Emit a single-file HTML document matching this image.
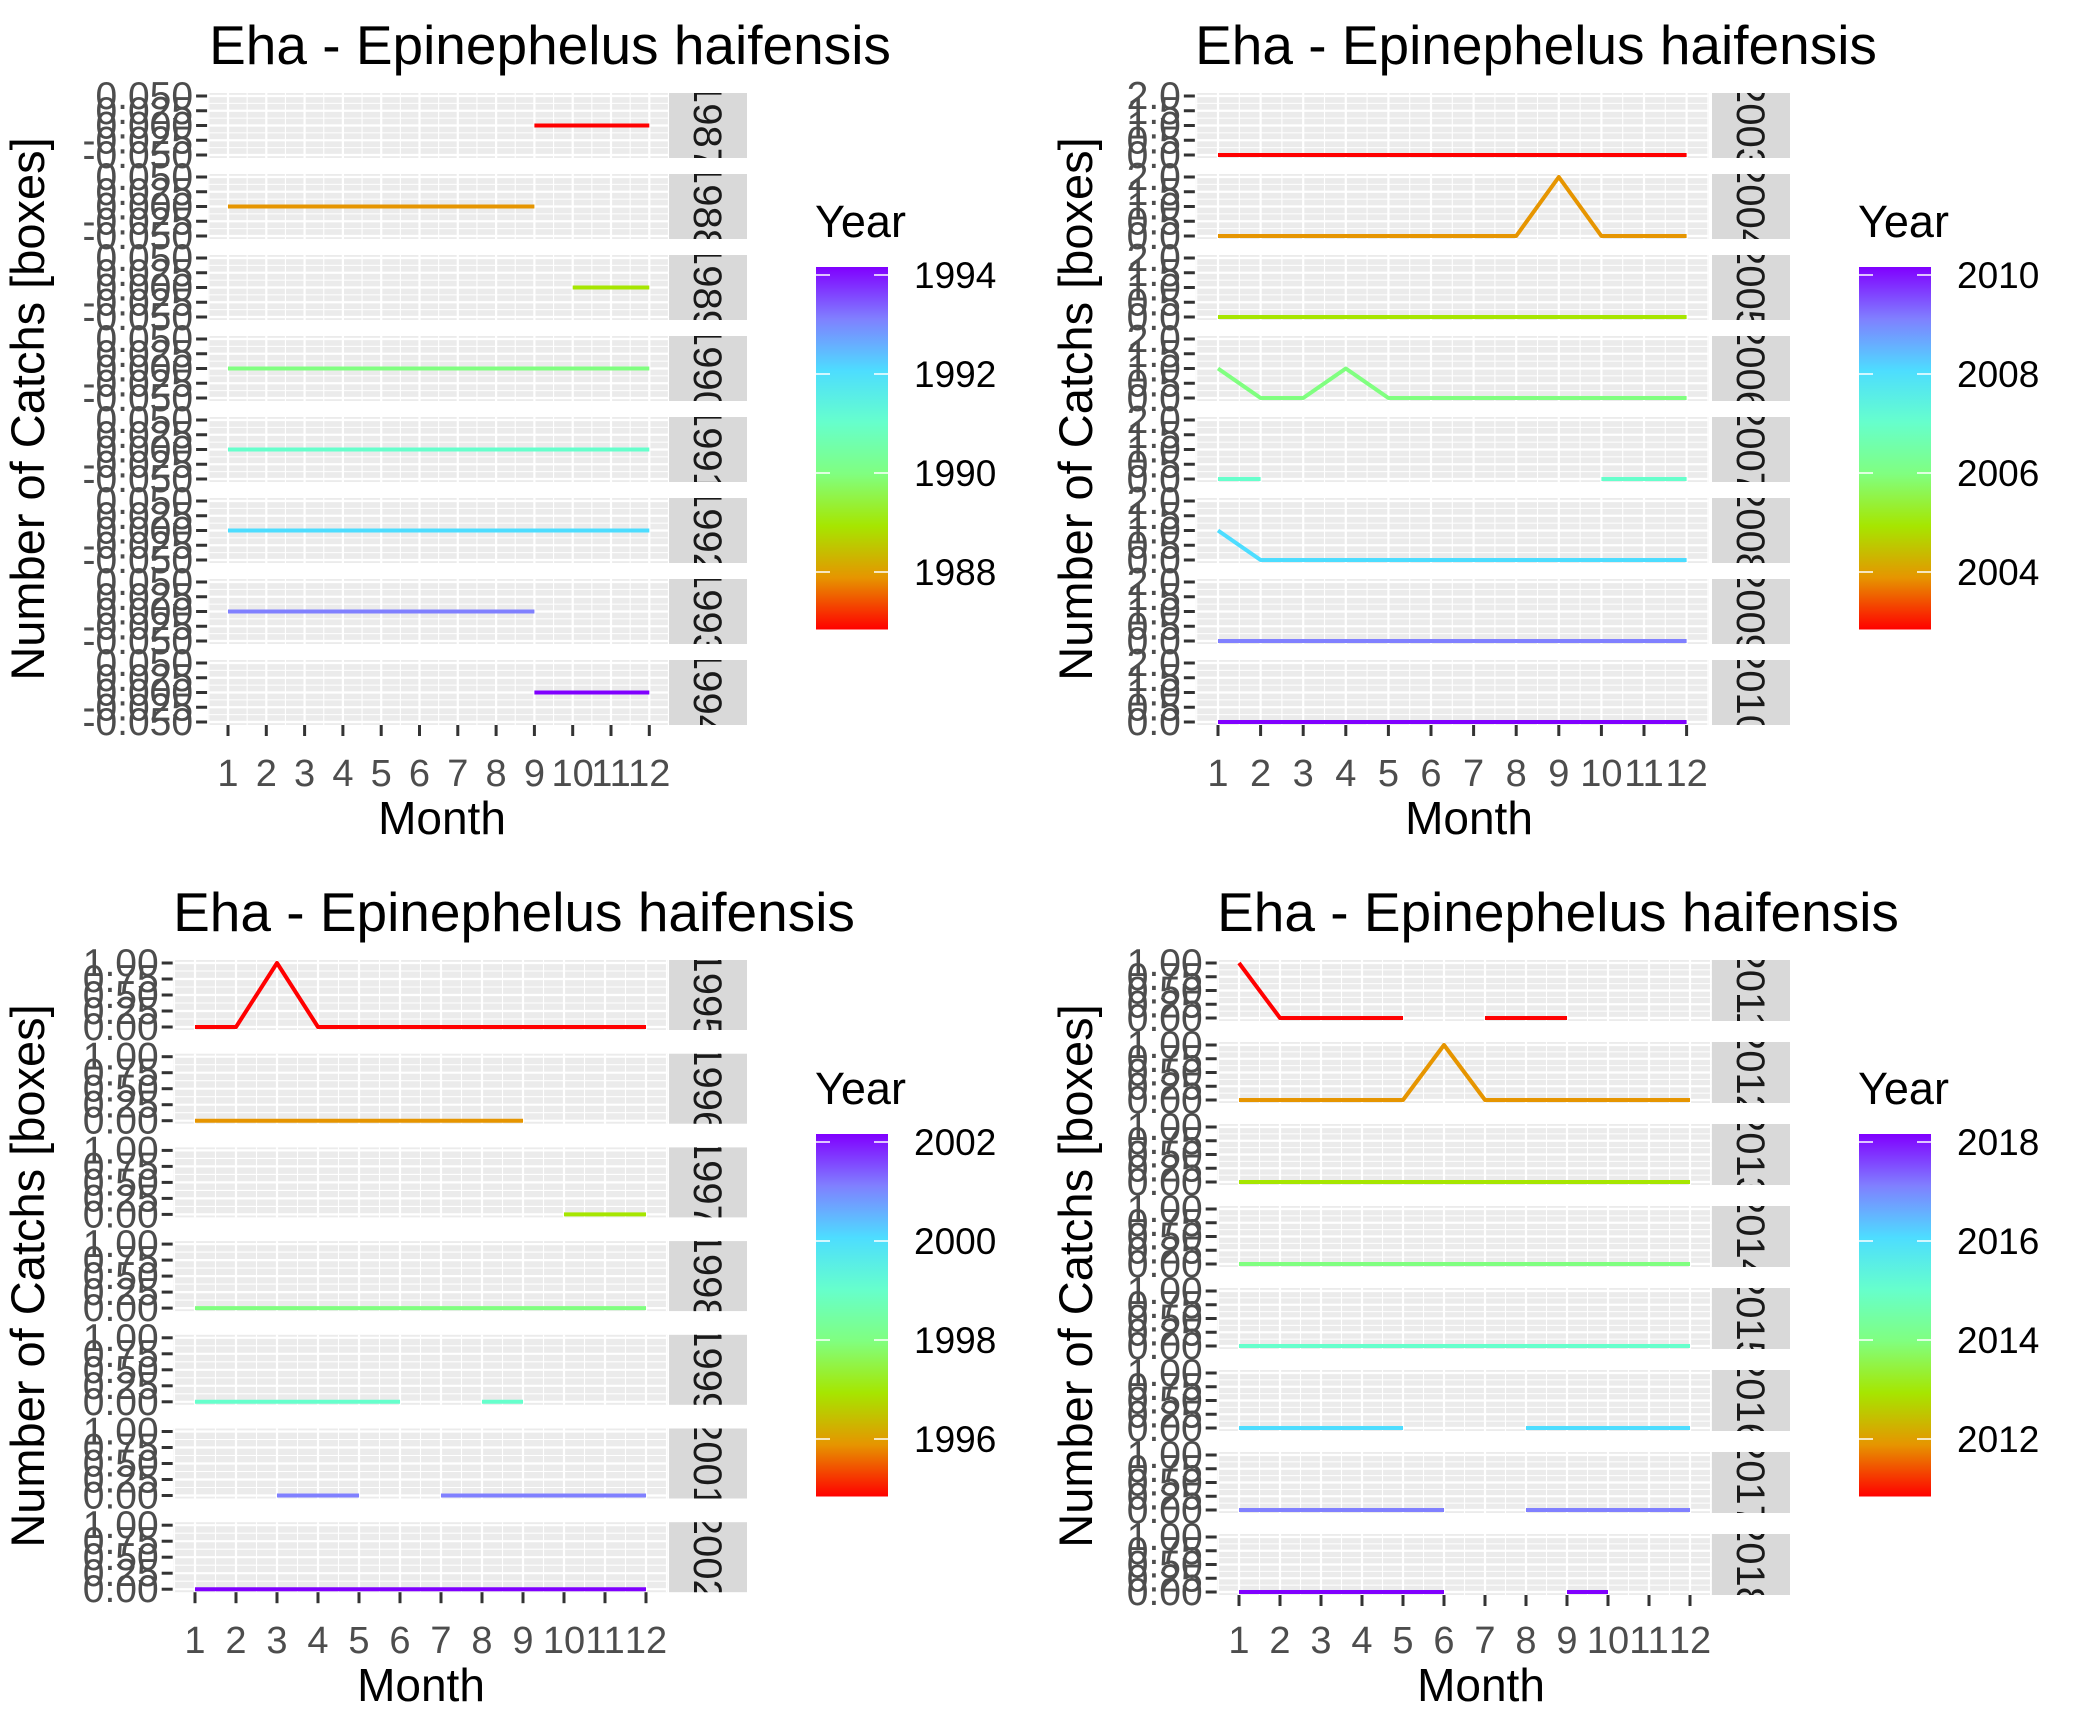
<!DOCTYPE html>
<html><head><meta charset="utf-8"><style>
html,body{margin:0;padding:0;background:#fff;}
svg{display:block;font-family:"Liberation Sans",Arial,sans-serif;}
</style></head><body>
<svg id="fig" width="2087" height="1734" viewBox="0 0 2087 1734" xmlns="http://www.w3.org/2000/svg">
<defs>
<linearGradient id="rb" x1="0" y1="1" x2="0" y2="0">
<stop offset="0" stop-color="#FF0000"/><stop offset="0.143" stop-color="#E69500"/><stop offset="0.286" stop-color="#A6E600"/><stop offset="0.429" stop-color="#80FF80"/><stop offset="0.571" stop-color="#66FFCC"/><stop offset="0.714" stop-color="#4DDDFF"/><stop offset="0.857" stop-color="#8080FF"/><stop offset="1" stop-color="#8000FF"/>
</linearGradient>
</defs>
</svg>
<script>
// ---- data (top level) ----
const months = [1,2,3,4,5,6,7,8,9,10,11,12];
const N = null;
// Top-left: 1987-1994
const tlYears = [1987,1988,1989,1990,1991,1992,1993,1994];
const tlValues = [
 [N,N,N,N,N,N,N,N,0,0,0,0],
 [0,0,0,0,0,0,0,0,0,N,N,N],
 [N,N,N,N,N,N,N,N,N,0,0,0],
 [0,0,0,0,0,0,0,0,0,0,0,0],
 [0,0,0,0,0,0,0,0,0,0,0,0],
 [0,0,0,0,0,0,0,0,0,0,0,0],
 [0,0,0,0,0,0,0,0,0,N,N,N],
 [N,N,N,N,N,N,N,N,0,0,0,0]];
const tlTicks = [-0.05,-0.025,0,0.025,0.05];
const tlTickLabels = ["-0.050","-0.025","0.000","0.025","0.050"];
const tlLegendYears = [1988,1990,1992,1994];
// Top-right: 2003-2010
const trYears = [2003,2004,2005,2006,2007,2008,2009,2010];
const trValues = [
 [0,0,0,0,0,0,0,0,0,0,0,0],
 [0,0,0,0,0,0,0,0,2,0,0,0],
 [0,0,0,0,0,0,0,0,0,0,0,0],
 [1,0,0,1,0,0,0,0,0,0,0,0],
 [0,0,N,N,N,N,N,N,N,0,0,0],
 [1,0,0,0,0,0,0,0,0,0,0,0],
 [0,0,0,0,0,0,0,0,0,0,0,0],
 [0,0,0,0,0,0,0,0,0,0,0,0]];
const trTicks = [0,0.5,1,1.5,2];
const trTickLabels = ["0.0","0.5","1.0","1.5","2.0"];
const trLegendYears = [2004,2006,2008,2010];
// Bottom-left: 1995-2002 (no 2000)
const blYears = [1995,1996,1997,1998,1999,2001,2002];
const blValues = [
 [0,0,1,0,0,0,0,0,0,0,0,0],
 [0,0,0,0,0,0,0,0,0,N,N,N],
 [N,N,N,N,N,N,N,N,N,0,0,0],
 [0,0,0,0,0,0,0,0,0,0,0,0],
 [0,0,0,0,0,0,N,0,0,N,N,N],
 [N,N,0,0,0,N,0,0,0,0,0,0],
 [0,0,0,0,0,0,0,0,0,0,0,0]];
const blTicks = [0,0.25,0.5,0.75,1];
const blTickLabels = ["0.00","0.25","0.50","0.75","1.00"];
const blLegendYears = [1996,1998,2000,2002];
// Bottom-right: 2011-2018
const brYears = [2011,2012,2013,2014,2015,2016,2017,2018];
const brValues = [
 [1,0,0,0,0,N,0,0,0,N,N,N],
 [0,0,0,0,0,1,0,0,0,0,0,0],
 [0,0,0,0,0,0,0,0,0,0,0,0],
 [0,0,0,0,0,0,0,0,0,0,0,0],
 [0,0,0,0,0,0,0,0,0,0,0,0],
 [0,0,0,0,0,N,N,0,0,0,0,0],
 [0,0,0,0,0,0,N,0,0,0,0,0],
 [0,0,0,0,0,0,N,N,0,0,N,N]];
const brTicks = [0,0.25,0.5,0.75,1];
const brTickLabels = ["0.00","0.25","0.50","0.75","1.00"];
const brLegendYears = [2012,2014,2016,2018];

// ---- rendering ----
const NS = "http://www.w3.org/2000/svg";
const svg = document.getElementById('fig');
const stops = [[255,0,0],[230,149,0],[166,230,0],[128,255,128],[102,255,204],[77,221,255],[128,128,255],[128,0,255]];
function colorAt(t){
  t=Math.max(0,Math.min(1,t))*(stops.length-1);
  const i=Math.min(Math.floor(t),stops.length-2), f=t-i;
  const c=stops[i].map((v,k)=>Math.round(v+(stops[i+1][k]-v)*f));
  return 'rgb('+c.join(',')+')';
}
function el(tag, attrs, parent){
  const e=document.createElementNS(NS,tag);
  for(const k in attrs) e.setAttribute(k,attrs[k]);
  (parent||svg).appendChild(e);
  return e;
}
let clipId=0;
function chart(c, years, values, ticks, tickLabels, legendYears){
  const g = el('g',{});
  
  
  const ymin=ticks[0], ymax=ticks[ticks.length-1];
  const xs = m => c.x1 + (m-1)*c.step;
  const yMin=years[0], yMax=years[years.length-1];
  const t=el('text',{x:c.titleX,y:c.oy+64,'text-anchor':'middle','font-size':55,fill:'#000'},g);
  t.textContent='Eha - Epinephelus haifensis';
  
  
  const pl=c.x1-0.52*c.step, pr=xs(12)+0.52*c.step;
  years.forEach((yr,i)=>{
    const top=c.oy+96+i*c.fstep, bot=top+c.h;
    const ys = v => bot - (v-ymin)/(ymax-ymin)*c.h;
    const fg=el('g',{},g);
    
    
    const panel=el('rect',{x:pl,y:top-3,width:pr-pl,height:c.h+6,fill:'#EBEBEB'},fg);
    
    
    for(let k=0;k<ticks.length;k++){
      el('line',{x1:pl,x2:pr,y1:ys(ticks[k]),y2:ys(ticks[k]),stroke:'#fff','stroke-width':2.2},fg);
      if(k<ticks.length-1){const ym=(ys(ticks[k])+ys(ticks[k+1]))/2;
        el('line',{x1:pl,x2:pr,y1:ym,y2:ym,stroke:'#fff','stroke-width':1.1},fg);}
    }
    for(let m=0.5;m<=12.5;m+=0.5){
      el('line',{x1:xs(m),x2:xs(m),y1:top-3,y2:bot+3,stroke:'#fff','stroke-width':(m%1===0)?2.2:1.1},fg);
    }
    ticks.forEach((tv,k)=>{
      el('line',{x1:pl-12,x2:pl-1,y1:ys(tv),y2:ys(tv),stroke:'#333','stroke-width':3},fg);
      const tl=el('text',{x:pl-15,y:ys(tv)+13,'text-anchor':'end','font-size':39,fill:'#4D4D4D'},fg);
      tl.textContent=tickLabels[k];
      
      
    });
    const col=colorAt((yr-yMin)/(yMax-yMin));
    let seg=[];
    const flush=()=>{ if(seg.length>1){
        const p=el('polyline',{points:seg.join(' '),fill:'none',stroke:col,'stroke-width':4,'stroke-linejoin':'round'},fg);
        
        
      } seg=[]; };
    values[i].forEach((v,mi)=>{
      if(v===null){flush();return;}
      seg.push(xs(months[mi]).toFixed(1)+','+ys(v).toFixed(1));
    });
    flush();
    const sx=c.stripX, sw=78;
    const cid='clip'+(clipId++);
    const cp=el('clipPath',{id:cid},fg);
    el('rect',{x:sx,y:top-3,width:sw,height:c.h+6},cp);
    const st=el('rect',{x:sx,y:top-3,width:sw,height:c.h+6,fill:'#D9D9D9'},fg);
    
    
    const cx=sx+sw/2, cy=top+c.h/2;
    const cg=el('g',{'clip-path':'url(#'+cid+')'},fg);
    const stx=el('text',{x:cx,y:cy+14,'text-anchor':'middle','font-size':40,fill:'#1A1A1A',transform:'rotate(90 '+cx+' '+cy+')'},cg);
    stx.textContent=String(yr);
    
    
  });
  const axTop=c.oy+96+(years.length-1)*c.fstep+c.h+3;
  months.forEach(m=>{
    el('line',{x1:xs(m),x2:xs(m),y1:axTop,y2:axTop+11,stroke:'#333','stroke-width':3},g);
    const xl=el('text',{x:xs(m),y:c.oy+786,'text-anchor':'middle','font-size':38,fill:'#4D4D4D'},g);
    xl.textContent=String(m);
    
    
  });
  const xt=el('text',{x:c.monthX,y:c.oy+834,'text-anchor':'middle','font-size':46,fill:'#000'},g);
  xt.textContent='Month';
  
  
  const yt=el('text',{x:c.ylabX,y:c.oy+409,'text-anchor':'middle','font-size':47,fill:'#000',transform:'rotate(-90 '+c.ylabX+' '+(c.oy+409)+')'},g);
  yt.textContent='Number of Catchs [boxes]';
  
  
  const lg=el('g',{},g);
  
  
  const lx=c.legX;
  const ltt=el('text',{x:lx-1,y:c.oy+237,'font-size':45,fill:'#000'},lg);
  ltt.textContent='Year';
  
  
  const yTop=c.oy+275, per=49.5;
  const ly = yr => yTop + (yMax-yr)*per;
  const bar=el('rect',{x:lx,y:ly(yMax)-8,width:72,height:(yMax-yMin)*per+16,fill:'url(#rb)'},lg);
  
  
  legendYears.forEach(yr=>{
    el('line',{x1:lx,x2:lx+14,y1:ly(yr),y2:ly(yr),stroke:'#fff','stroke-width':1.5},lg);
    el('line',{x1:lx+58,x2:lx+72,y1:ly(yr),y2:ly(yr),stroke:'#fff','stroke-width':1.5},lg);
    const lt=el('text',{x:lx+98,y:ly(yr)+13,'font-size':37,fill:'#000'},lg);
    lt.textContent=String(yr);
    
    
  });
}
chart({name:'chart-1987-1994',oy:0,x1:228,step:38.3,fstep:81,h:59,stripX:669,titleX:550,monthX:442,ylabX:44,legX:816},tlYears,tlValues,tlTicks,tlTickLabels,tlLegendYears);
chart({name:'chart-2003-2010',oy:0,x1:1218,step:42.6,fstep:81,h:59,stripX:1712,titleX:1536,monthX:1469,ylabX:1092,legX:1859},trYears,trValues,trTicks,trTickLabels,trLegendYears);
chart({name:'chart-1995-2002',oy:867,x1:195,step:41,fstep:93.7,h:64,stripX:669,titleX:514,monthX:421,ylabX:44,legX:816},blYears,blValues,blTicks,blTickLabels,blLegendYears);
chart({name:'chart-2011-2018',oy:867,x1:1239,step:41,fstep:82,h:55,stripX:1712,titleX:1558,monthX:1481,ylabX:1092,legX:1859},brYears,brValues,brTicks,brTickLabels,brLegendYears);
</script>
</body></html>
